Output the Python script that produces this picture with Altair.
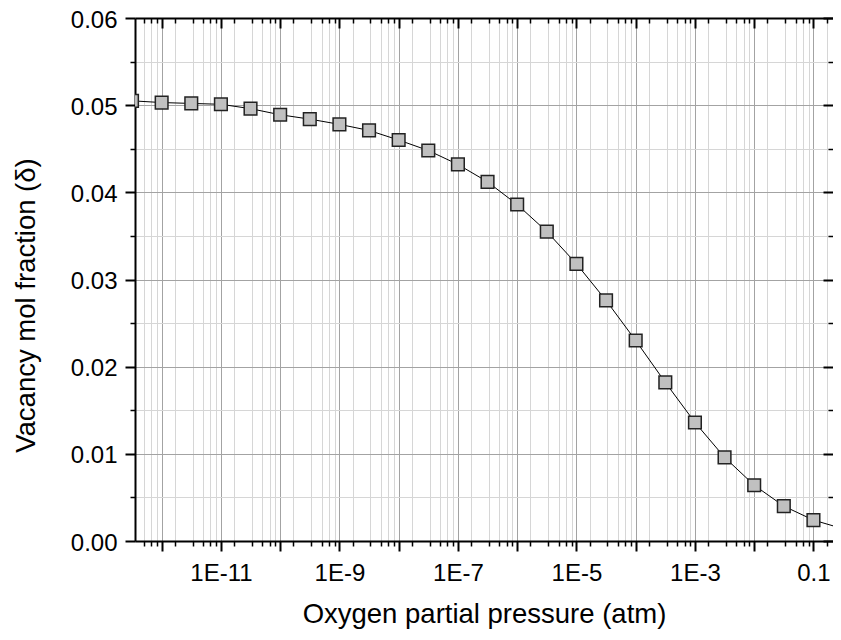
import altair as alt
import pandas as pd

# Oxygen partial pressure (atm), half-decade steps
pressure = [3.162e-13, 1e-12, 3.162e-12, 1e-11, 3.162e-11, 1e-10, 3.162e-10, 1e-9,
            3.162e-9, 1e-8, 3.162e-8, 1e-7, 3.162e-7, 1e-6, 3.162e-6, 1e-5,
            3.162e-5, 1e-4, 3.162e-4, 1e-3, 3.162e-3, 1e-2, 3.162e-2, 1e-1, 3.162e-1]
# Vacancy mol fraction (delta)
delta = [0.0505, 0.0503, 0.0502, 0.0501, 0.0496, 0.0489, 0.0484, 0.0478,
         0.0471, 0.0460, 0.0448, 0.0432, 0.0412, 0.0386, 0.0355, 0.0318,
         0.0276, 0.0230, 0.0182, 0.0136, 0.0096, 0.0064, 0.0040, 0.0024, 0.0014]

x_domain = [3.55e-13, 0.2138]
x_major = [1e-12, 1e-11, 1e-10, 1e-9, 1e-8, 1e-7, 1e-6, 1e-5, 1e-4, 1e-3, 1e-2, 1e-1]
minor_mult = [5 / 3, 10 / 3, 5, 20 / 3, 25 / 3]
x_minor = [m * d for d in [1e-13] + x_major for m in minor_mult
           if x_domain[0] <= m * d <= x_domain[1]]
y_major = [0, 0.01, 0.02, 0.03, 0.04, 0.05, 0.06]
y_minor = [0.005, 0.015, 0.025, 0.035, 0.045, 0.055]

df = pd.DataFrame({"p": pressure, "d": delta})

FONT = "Liberation Sans"
MAJOR_GRID = "#a3a3a3"
MINOR_GRID = "#d6d6d6"
W, H = 698, 523
xs = alt.Scale(type="log", domain=x_domain, nice=False)
ys = alt.Scale(domain=[0, 0.06], nice=False, zero=False)

base = alt.Chart(df)


def plain_axis(orient, values, size, offset, width):
    return alt.Axis(orient=orient, values=values, labels=False, tickSize=size,
                    tickWidth=width, tickColor="black", domain=False, grid=False,
                    offset=offset, title=None)


# minor ticks + minor gridlines (bottom / left)
minor_layer = base.mark_point(opacity=0).encode(
    x=alt.X("p:Q", scale=xs,
            axis=alt.Axis(orient="bottom", values=x_minor, labels=False, tickSize=5,
                          tickWidth=1.5, tickColor="black", domain=False, grid=True,
                          gridColor=MINOR_GRID, gridWidth=1, title=None)),
    y=alt.Y("d:Q", scale=ys,
            axis=alt.Axis(orient="left", values=y_minor, labels=False, tickSize=5,
                          tickWidth=1.5, tickColor="black", domain=False, grid=True,
                          gridColor=MINOR_GRID, gridWidth=1, title=None)),
)

# inward major ticks on top / right
top_major = base.mark_point(opacity=0).encode(
    x=alt.X("p:Q", scale=xs, axis=plain_axis("top", x_major, 10, -10, 2)),
    y=alt.Y("d:Q", scale=ys, axis=plain_axis("right", y_major, 10, -10, 2)),
)
# inward minor ticks on top / right
top_minor = base.mark_point(opacity=0).encode(
    x=alt.X("p:Q", scale=xs, axis=plain_axis("top", x_minor, 5, -5, 1.5)),
    y=alt.Y("d:Q", scale=ys, axis=plain_axis("right", y_minor, 5, -5, 1.5)),
)

label_expr = ("(round(log(datum.value)/LN10) % 2 != 0) ? "
              "(round(log(datum.value)/LN10) == -1 ? '0.1' : '1E' + round(log(datum.value)/LN10))"
              " : ''")

line_layer = base.mark_line(color="black", strokeWidth=1, clip=True).encode(
    x=alt.X("p:Q", scale=xs,
            axis=alt.Axis(orient="bottom", values=x_major, labelExpr=label_expr,
                          tickSize=10, tickWidth=2, tickColor="black",
                          domain=True, domainWidth=2, domainColor="black",
                          grid=True, gridColor=MAJOR_GRID, gridWidth=1,
                          labelFont=FONT, labelFontSize=24, labelColor="black",
                          labelPadding=10, labelFlush=False, labelOverlap=False,
                          title="Oxygen partial pressure (atm)", titleFont=FONT,
                          titleFontSize=27.5, titleFontWeight="normal", titleColor="black",
                          titleX=W / 2, titleY=81, titleAlign="center",
                          titleBaseline="alphabetic")),
    y=alt.Y("d:Q", scale=ys,
            axis=alt.Axis(orient="left", values=y_major, format=".2f",
                          tickSize=10, tickWidth=2, tickColor="black",
                          domain=True, domainWidth=2, domainColor="black",
                          grid=True, gridColor=MAJOR_GRID, gridWidth=1,
                          labelFont=FONT, labelFontSize=24, labelColor="black",
                          labelPadding=8, labelOffset=2, labelFlush=False,
                          labelOverlap=False,
                          title="Vacancy mol fraction (δ)", titleFont=FONT,
                          titleFontSize=27.5, titleFontWeight="normal", titleColor="black",
                          titleX=-109, titleY=287, titleAlign="center",
                          titleBaseline="middle", titleAngle=270)),
)

point_layer = base.mark_square(size=160, fill="#c0c0c0", stroke="#222222",
                               strokeWidth=1.5, opacity=1, clip=True).encode(
    x=alt.X("p:Q", scale=xs,
            axis=alt.Axis(orient="top", domain=True, domainWidth=2, domainColor="black",
                          ticks=False, labels=False, grid=False, title=None)),
    y=alt.Y("d:Q", scale=ys, axis=None),
)

chart = alt.layer(minor_layer, top_major, top_minor, line_layer, point_layer).resolve_axis(
    x="independent", y="independent"
).properties(
    width=W, height=H,
    padding={"left": 127, "top": 10, "right": 0, "bottom": 91},
    autosize=alt.AutoSizeParams(type="none"),
).configure_view(stroke=None)

chart.save("out.html", embed_options={"renderer": "svg", "actions": False})
